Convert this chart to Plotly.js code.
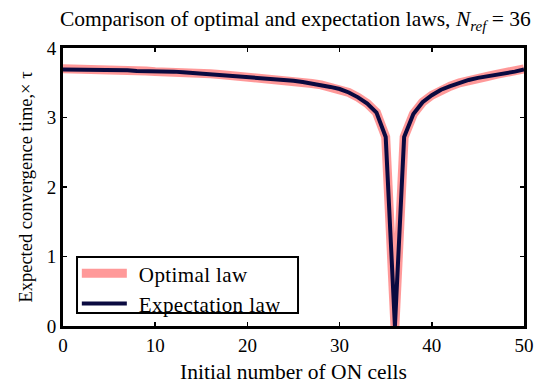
<!DOCTYPE html>
<html>
<head>
<meta charset="utf-8">
<script src="https://cdn.plot.ly/plotly-3.0.1.min.js"></script>
<style>
html,body{margin:0;padding:0;background:#fff;}
#chart{width:542px;height:390px;}
.legendtext{letter-spacing:0.4px;transform:translate(7px,0);}
</style>
</head>
<body>
<div id="chart"></div>
<script>
// Initial number of ON cells
const cells = [0,1,2,3,4,5,6,7,8,9,10,11,12,13,14,15,16,17,18,19,20,21,22,23,24,25,26,27,28,29,30,31,32,33,34,35,36,37,38,39,40,41,42,43,44,45,46,47,48,49,50];
// Expectation law (expected convergence time, x tau)
const expectation = [3.69,3.69,3.69,3.69,3.69,3.69,3.69,3.68,3.67,3.67,3.66,3.66,3.66,3.65,3.64,3.64,3.63,3.62,3.61,3.60,3.59,3.58,3.57,3.56,3.54,3.53,3.51,3.49,3.47,3.44,3.41,3.36,3.29,3.20,3.07,2.72,0,2.72,3.05,3.22,3.32,3.40,3.45,3.50,3.54,3.57,3.59,3.62,3.64,3.66,3.69];
// Optimal law
const optimal = [3.70,3.70,3.70,3.70,3.70,3.70,3.70,3.67,3.67,3.67,3.66,3.66,3.66,3.65,3.64,3.64,3.63,3.62,3.61,3.60,3.59,3.58,3.57,3.55,3.54,3.52,3.51,3.49,3.47,3.44,3.41,3.36,3.29,3.20,3.07,2.72,0,2.72,3.05,3.22,3.32,3.40,3.45,3.50,3.54,3.57,3.59,3.62,3.64,3.66,3.70];

const serif = 'Liberation Serif, Times New Roman, serif';

const traces = [
  {x: cells, y: optimal, type: 'scatter', mode: 'lines', name: 'Optimal law',
   line: {color: 'rgba(255,110,110,0.7)', width: 9}},
  {x: cells, y: expectation, type: 'scatter', mode: 'lines', name: 'Expectation law',
   line: {color: '#0a0a40', width: 4}}
];

const axisCommon = {
  showline: true, linewidth: 3, linecolor: '#000', mirror: 'ticks',
  ticks: 'inside', ticklen: 4, tickwidth: 1.5, tickcolor: '#000',
  showgrid: false, zeroline: false,
  tickfont: {family: serif, size: 19, color: '#000'}
};

const layout = {
  width: 542, height: 390,
  margin: {l: 63, r: 18, t: 48, b: 64},
  paper_bgcolor: '#fff', plot_bgcolor: '#fff',
  showlegend: true,
  xaxis: Object.assign({}, axisCommon, {
    range: [0, 50], tickvals: [0,10,20,30,40,50],
    title: {text: 'Initial number of ON cells', font: {family: serif, size: 21.5, color: '#000'}, standoff: 10}
  }),
  yaxis: Object.assign({}, axisCommon, {
    range: [0, 4], tickvals: [0,1,2,3,4],
    title: {text: 'Expected convergence time,\u00d7 \u03c4', font: {family: serif, size: 18.5, color: '#000'}, standoff: 10}
  }),
  legend: {
    x: 0.03, y: 0.262, xanchor: 'left', yanchor: 'top',
    bgcolor: 'rgba(0,0,0,0)', borderwidth: 0,
    font: {family: serif, size: 21, color: '#000'},
    itemwidth: 45, tracegroupgap: 0
  },
  shapes: [{
    type: 'rect', xref: 'paper', yref: 'paper', layer: 'above',
    x0: 0.0304, x1: 0.5098, y0: 0.047, y1: 0.248,
    fillcolor: '#fff', line: {color: '#000', width: 2}
  }],
  annotations: [{
    xref: 'paper', yref: 'paper', x: 0.505, y: 1.10, xanchor: 'center', yanchor: 'middle',
    showarrow: false,
    text: 'Comparison of optimal and expectation laws, <i>N</i><sub><i>ref</i></sub> = 36',
    font: {family: serif, size: 21.5, color: '#000'}
  }]
};

Plotly.newPlot('chart', traces, layout, {displayModeBar: false, staticPlot: true});
</script>
</body>
</html>
